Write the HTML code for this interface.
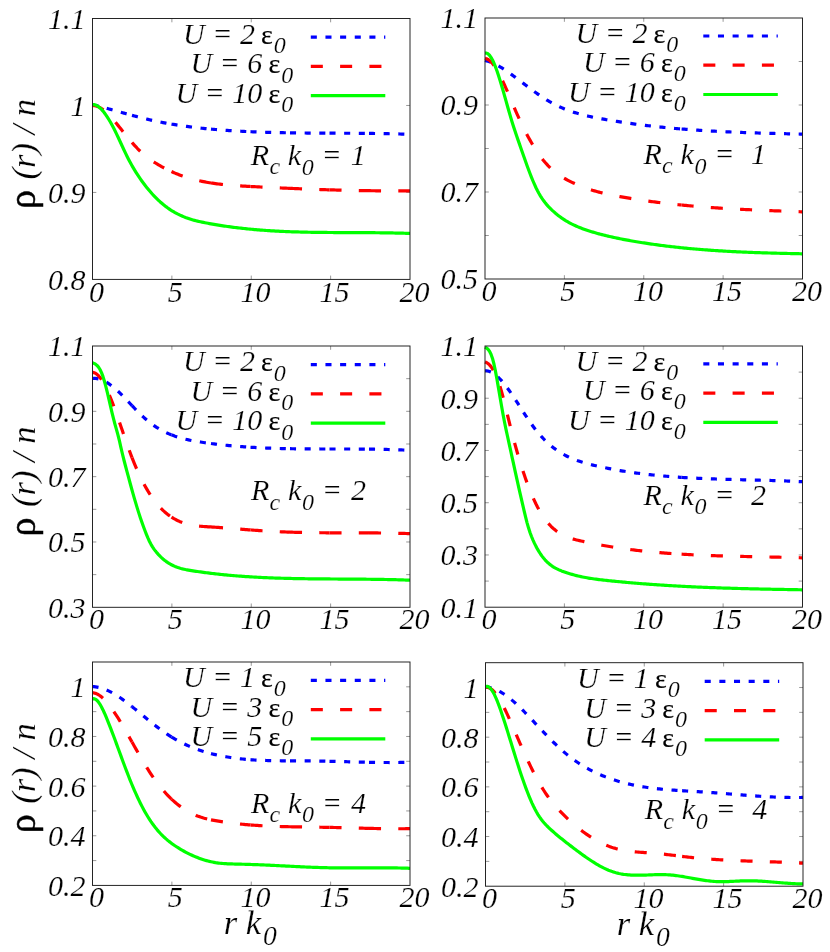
<!DOCTYPE html>
<html><head><meta charset="utf-8"><title>rho(r)/n versus r k0</title>
<style>html,body{margin:0;padding:0;background:#fff}svg{display:block;will-change:transform}text{font-family:"Liberation Serif",serif;fill:#000;stroke:#fff;stroke-width:.2px}.i{font-style:italic}.u{stroke:#000;stroke-width:.2px}.rho{stroke:#000;stroke-width:.5px}.cb,.cr,.cg{fill:none;stroke-width:3.2;stroke-linejoin:round}.cb{stroke:#00f;stroke-dasharray:6.05 8.6}.cr{stroke:#f00;stroke-dasharray:12.05 17.25}.cg{stroke:#0f0}.fr{fill:none;stroke:#1a1a1a;stroke-width:.95}.tk{fill:none;stroke:#333;stroke-width:.5}</style>
</head><body>
<svg width="830" height="952" viewBox="0 0 830 952">
<rect x="0" y="0" width="830" height="952" fill="#fff"/>
<g id="panel1">
<path d="M171.88 279.4v-3.8M171.88 18.5v3.8M251.25 279.4v-3.8M251.25 18.5v3.8M330.62 279.4v-3.8M330.62 18.5v3.8M92.5 192.43h3.8M410 192.43h-3.8M92.5 105.47h3.8M410 105.47h-3.8" class="tk"/>
<path d="M92.5 104.71L94 105.07L95.5 105.44L97 105.81L98.5 106.19L100 106.57L101.5 106.96L103 107.35L104.5 107.75L106 108.15L107.5 108.56L109 108.96L110.5 109.37L112 109.79L113.5 110.2L115 110.62L116.5 111.03L118 111.45L119.5 111.87L121 112.29L122.5 112.7L124 113.12L125.5 113.54L127 113.95L128.5 114.36L130 114.77L131.5 115.18L132 115.32" class="cb"/>
<path d="M132 115.32L133 115.59L134.5 115.99L136 116.39L137.5 116.78L139 117.17L140.5 117.56L142 117.94L143.5 118.31L145 118.68L146.5 119.04L148 119.4L149.5 119.75L151 120.09L152.5 120.43L154 120.76L155.5 121.08L157 121.39L158.5 121.7L160 122.01L161.5 122.3L163 122.59L164.5 122.88L166 123.15L167.5 123.43L169 123.69L170.5 123.95L171.5 124.12" class="cb"/>
<path d="M171.5 124.12L172 124.21L173.5 124.45L175 124.7L176.5 124.94L178 125.17L179.5 125.39L181 125.62L182.5 125.83L184 126.05L185.5 126.25L187 126.45L188.5 126.65L190 126.84L191.5 127.03L193 127.22L194.5 127.4L196 127.57L197.5 127.74L199 127.91L200.5 128.07L202 128.23L203.5 128.39L205 128.54L206.5 128.69L208 128.83L209.5 128.97L211 129.11" class="cb"/>
<path d="M211 129.11L212.5 129.24L214 129.38L215.5 129.5L217 129.63L218.5 129.75L220 129.87L221.5 129.99L223 130.1L224.5 130.21L226 130.32L227.5 130.42L229 130.53L230.5 130.63L232 130.72L233.5 130.82L235 130.91L236.5 131L238 131.08L239.5 131.17L241 131.25L242.5 131.33L244 131.41L245.5 131.48L247 131.55L248.5 131.62L250 131.69L250.5 131.71" class="cb"/>
<path d="M250.5 131.71L251.5 131.76L253 131.82L254.5 131.88L256 131.94L257.5 132L259 132.06L260.5 132.11L262 132.16L263.5 132.21L265 132.26L266.5 132.31L268 132.35L269.5 132.4L271 132.44L272.5 132.48L274 132.52L275.5 132.55L277 132.59L278.5 132.62L280 132.65L281.5 132.68L283 132.71L284.5 132.74L286 132.77L287.5 132.79L289 132.82L290 132.83" class="cb"/>
<path d="M290 132.83L290.5 132.84L292 132.87L293.5 132.89L295 132.91L296.5 132.93L298 132.94L299.5 132.96L301 132.98L302.5 132.99L304 133.01L305.5 133.02L307 133.03L308.5 133.05L310 133.06L311.5 133.07L313 133.08L314.5 133.09L316 133.1L317.5 133.11L319 133.12L320.5 133.13L322 133.13L323.5 133.14L325 133.15L326.5 133.16L328 133.16L329.5 133.17" class="cb"/>
<path d="M329.5 133.17L331 133.18L332.5 133.18L334 133.19L335.5 133.19L337 133.2L338.5 133.21L340 133.21L341.5 133.22L343 133.23L344.5 133.24L346 133.24L347.5 133.25L349 133.26L350.5 133.27L352 133.28L353.5 133.28L355 133.29L356.5 133.3L358 133.32L359.5 133.33L361 133.34L362.5 133.35L364 133.37L365.5 133.38L367 133.39L368.5 133.41L369 133.42" class="cb"/>
<path d="M369 133.42L370 133.43L371.5 133.45L373 133.46L374.5 133.48L376 133.5L377.5 133.53L379 133.55L380.5 133.57L382 133.6L383.5 133.62L385 133.65L386.5 133.68L388 133.71L389.5 133.74L391 133.77L392.5 133.81L394 133.84L395.5 133.88L397 133.92L398.5 133.96L400 134L401.5 134.05L403 134.09L404.5 134.14L406 134.19L407.5 134.24L409 134.29L410 134.33" class="cb"/>
<path d="M92.5 105.44L94 105.53L95.5 105.81L97 106.27L98.5 106.89L100 107.67L101.5 108.59L103 109.66L104.5 110.84L106 112.14L107.5 113.54L109 115.04L110.5 116.62L112 118.27L113.5 119.98L115 121.74L116.5 123.55L118 125.38L119.5 127.23L121 129.1L122.5 130.96L124 132.83L125.5 134.68L127 136.53L128.5 138.35L130 140.14L131.5 141.91L132 142.48" class="cr"/>
<path d="M132 142.48L133 143.63L134.5 145.31L136 146.94L137.5 148.52L139 150.03L140.5 151.48L142 152.86L143.5 154.18L145 155.45L146.5 156.67L148 157.83L149.5 158.94L151 160.02L152.5 161.05L154 162.04L155.5 163L157 163.93L158.5 164.82L160 165.7L161.5 166.54L163 167.37L164.5 168.16L166 168.94L167.5 169.69L169 170.41L170.5 171.12L171.5 171.57" class="cr"/>
<path d="M171.5 171.57L172 171.8L173.5 172.46L175 173.1L176.5 173.71L178 174.31L179.5 174.88L181 175.44L182.5 175.97L184 176.49L185.5 176.99L187 177.47L188.5 177.93L190 178.37L191.5 178.8L193 179.21L194.5 179.6L196 179.98L197.5 180.34L199 180.69L200.5 181.02L202 181.34L203.5 181.64L205 181.93L206.5 182.21L208 182.48L209.5 182.73L211 182.97" class="cr"/>
<path d="M211 182.97L212.5 183.2L214 183.42L215.5 183.63L217 183.83L218.5 184.01L220 184.19L221.5 184.36L223 184.53L224.5 184.68L226 184.83L227.5 184.96L229 185.1L230.5 185.22L232 185.34L233.5 185.46L235 185.56L236.5 185.67L238 185.77L239.5 185.86L241 185.95L242.5 186.04L244 186.13L245.5 186.21L247 186.29L248.5 186.37L250 186.45L250.5 186.48" class="cr"/>
<path d="M250.5 186.48L251.5 186.53L253 186.61L254.5 186.69L256 186.76L257.5 186.84L259 186.92L260.5 186.99L262 187.07L263.5 187.14L265 187.21L266.5 187.29L268 187.36L269.5 187.43L271 187.51L272.5 187.58L274 187.65L275.5 187.72L277 187.79L278.5 187.86L280 187.93L281.5 188L283 188.06L284.5 188.13L286 188.2L287.5 188.26L289 188.33L290 188.37" class="cr"/>
<path d="M290 188.37L290.5 188.39L292 188.46L293.5 188.52L295 188.58L296.5 188.64L298 188.71L299.5 188.77L301 188.83L302.5 188.89L304 188.94L305.5 189L307 189.06L308.5 189.12L310 189.17L311.5 189.23L313 189.28L314.5 189.33L316 189.39L317.5 189.44L319 189.49L320.5 189.54L322 189.59L323.5 189.64L325 189.69L326.5 189.73L328 189.78L329.5 189.83" class="cr"/>
<path d="M329.5 189.83L331 189.87L332.5 189.92L334 189.96L335.5 190L337 190.04L338.5 190.08L340 190.12L341.5 190.16L343 190.2L344.5 190.24L346 190.27L347.5 190.31L349 190.34L350.5 190.37L352 190.41L353.5 190.44L355 190.47L356.5 190.5L358 190.52L359.5 190.55L361 190.58L362.5 190.6L364 190.63L365.5 190.65L367 190.67L368.5 190.7L369 190.7" class="cr"/>
<path d="M369 190.7L370 190.72L371.5 190.73L373 190.75L374.5 190.77L376 190.79L377.5 190.8L379 190.81L380.5 190.83L382 190.84L383.5 190.85L385 190.86L386.5 190.87L388 190.87L389.5 190.88L391 190.89L392.5 190.89L394 190.89L395.5 190.89L397 190.89L398.5 190.89L400 190.89L401.5 190.89L403 190.88L404.5 190.88L406 190.87L407.5 190.86L409 190.85L410 190.84" class="cr"/>
<path d="M92.5 104.55L94 104.65L95.5 105.05L97 105.74L98.5 106.71L100 107.94L101.5 109.4L103 111.09L104.5 112.99L106 115.07L107.5 117.33L109 119.75L110.5 122.31L112 125.02L113.5 127.85L115 130.81L116.5 133.87L118 137.02L119.5 140.24L121 143.49L122.5 146.74L124 149.96L125.5 153.12L127 156.2L128.5 159.16L130 162L131.5 164.73L133 167.36L134.5 169.88L136 172.32L137.5 174.66L139 176.92L140.5 179.11L142 181.22L143.5 183.27L145 185.25L146.5 187.17L148 189.03L149.5 190.82L151 192.55L152.5 194.22L154 195.83L155.5 197.38L157 198.87L158.5 200.31L160 201.69L161.5 203.01L163 204.28L164.5 205.49L166 206.66L167.5 207.77L169 208.82L170.5 209.83L172 210.79L173.5 211.7L175 212.57L176.5 213.38L178 214.16L179.5 214.89L181 215.59L182.5 216.24L184 216.86L185.5 217.45L187 218L188.5 218.52L190 219.01L191.5 219.48L193 219.92L194.5 220.34L196 220.73L197.5 221.1L199 221.46L200.5 221.8L202 222.12L203.5 222.43L205 222.73L206.5 223.02L208 223.3L209.5 223.58L211 223.85L212.5 224.11L214 224.37L215.5 224.63L217 224.88L218.5 225.12L220 225.36L221.5 225.6L223 225.82L224.5 226.05L226 226.27L227.5 226.48L229 226.69L230.5 226.89L232 227.09L233.5 227.29L235 227.48L236.5 227.66L238 227.84L239.5 228.02L241 228.19L242.5 228.36L244 228.52L245.5 228.68L247 228.84L248.5 228.99L250 229.13L251.5 229.28L253 229.41L254.5 229.55L256 229.68L257.5 229.81L259 229.93L260.5 230.05L262 230.16L263.5 230.27L265 230.38L266.5 230.49L268 230.59L269.5 230.68L271 230.78L272.5 230.87L274 230.96L275.5 231.04L277 231.12L278.5 231.2L280 231.28L281.5 231.35L283 231.42L284.5 231.48L286 231.55L287.5 231.61L289 231.67L290.5 231.73L292 231.78L293.5 231.83L295 231.88L296.5 231.93L298 231.97L299.5 232.01L301 232.05L302.5 232.09L304 232.13L305.5 232.16L307 232.19L308.5 232.23L310 232.25L311.5 232.28L313 232.31L314.5 232.33L316 232.35L317.5 232.37L319 232.39L320.5 232.41L322 232.43L323.5 232.45L325 232.46L326.5 232.47L328 232.49L329.5 232.5L331 232.51L332.5 232.52L334 232.53L335.5 232.54L337 232.55L338.5 232.55L340 232.56L341.5 232.57L343 232.57L344.5 232.58L346 232.59L347.5 232.59L349 232.6L350.5 232.6L352 232.61L353.5 232.61L355 232.62L356.5 232.62L358 232.63L359.5 232.63L361 232.64L362.5 232.65L364 232.65L365.5 232.66L367 232.67L368.5 232.68L370 232.69L371.5 232.7L373 232.71L374.5 232.72L376 232.74L377.5 232.75L379 232.77L380.5 232.78L382 232.8L383.5 232.82L385 232.84L386.5 232.86L388 232.89L389.5 232.91L391 232.94L392.5 232.97L394 233L395.5 233.03L397 233.06L398.5 233.1L400 233.13L401.5 233.17L403 233.22L404.5 233.26L406 233.31L407.5 233.35L409 233.4L410 233.44" class="cg"/>
<rect x="92.5" y="18.5" width="317.5" height="260.9" class="fr"/>
<text x="85.6" y="289.8" font-size="30" class="i" text-anchor="end">0.8</text>
<text x="85.6" y="202.83" font-size="30" class="i" text-anchor="end">0.9</text>
<text x="85.6" y="115.87" font-size="30" class="i" text-anchor="end">1</text>
<text x="85.6" y="28.9" font-size="30" class="i" text-anchor="end">1.1</text>
<text x="96.4" y="301.7" font-size="30" class="i" text-anchor="middle">0</text>
<text x="175.18" y="301.7" font-size="30" class="i" text-anchor="middle">5</text>
<text x="255.6" y="301.7" font-size="30" class="i" text-anchor="middle">10</text>
<text x="334.62" y="301.7" font-size="30" class="i" text-anchor="middle">15</text>
<text x="414.4" y="301.7" font-size="30" class="i" text-anchor="middle">20</text>
<text x="254.9" y="43.9" font-size="30" class="i" text-anchor="end">U = 2</text>
<text x="261" y="43.9" font-size="28" class="u">&#949;</text>
<text x="273.8" y="53" font-size="24" class="i">0</text>
<path d="M310.8 37.2H385.3" class="cb"/>
<text x="262.3" y="73.4" font-size="30" class="i" text-anchor="end">U = 6</text>
<text x="268.4" y="73.4" font-size="28" class="u">&#949;</text>
<text x="281.2" y="82.5" font-size="24" class="i">0</text>
<path d="M310.8 66.4H385.3" class="cr"/>
<text x="262.3" y="102.9" font-size="30" class="i" text-anchor="end">U = 10</text>
<text x="268.4" y="102.9" font-size="28" class="u">&#949;</text>
<text x="281.2" y="112" font-size="24" class="i">0</text>
<path d="M310.8 95.7H385.3" class="cg"/>
<text x="250.8" y="164.8" font-size="30" class="i">R</text>
<text x="269.4" y="174.3" font-size="24" class="i">c</text>
<text x="287.8" y="164.8" font-size="30" class="i">k</text>
<text x="301.8" y="174.6" font-size="24" class="i">0</text>
<text x="321.6" y="164.8" font-size="30" class="i">=</text>
<text x="350.8" y="164.8" font-size="30" class="i">1</text>
</g>
<g id="panel2">
<path d="M564.38 279v-3.8M564.38 18v3.8M643.75 279v-3.8M643.75 18v3.8M723.12 279v-3.8M723.12 18v3.8M485 235.5h3.8M802.5 235.5h-3.8M485 192h3.8M802.5 192h-3.8M485 148.5h3.8M802.5 148.5h-3.8M485 105h3.8M802.5 105h-3.8M485 61.5h3.8M802.5 61.5h-3.8" class="tk"/>
<path d="M485 60.52L486.5 60.88L488 61.3L489.5 61.79L491 62.35L492.5 62.96L494 63.63L495.5 64.36L497 65.13L498.5 65.95L500 66.82L501.5 67.72L503 68.66L504.5 69.63L506 70.64L507.5 71.67L509 72.72L510.5 73.79L512 74.88L513.5 75.98L515 77.09L516.5 78.22L518 79.34L519.5 80.47L521 81.61L522.5 82.75L524 83.88L525.5 85.02L527 86.15L528.5 87.28L530 88.4L531.5 89.51L533 90.61L534.5 91.7L536 92.77L537.5 93.84L539 94.88L540.5 95.91L542 96.91L543.5 97.9L545 98.86L546.5 99.8L548 100.7L549.5 101.59L551 102.44L552.5 103.26L554 104.06L555.5 104.82L557 105.57L558.5 106.28L560 106.97L561.5 107.64L563 108.28L564.5 108.9L566 109.49L567.5 110.06L569 110.62L570.5 111.15L572 111.66L573.5 112.16L575 112.63L576.5 113.09L578 113.54L579.5 113.96L581 114.37L582.5 114.77L584 115.15L585.5 115.52L587 115.88L588.5 116.22L590 116.56L591.5 116.88L593 117.2L594.5 117.5L596 117.8L597.5 118.09L599 118.37L600.5 118.65L602 118.92L603.5 119.19L605 119.45L606.5 119.71L608 119.97L609.5 120.22L611 120.47L612.5 120.72L614 120.96L615.5 121.2L617 121.44L618.5 121.67L620 121.91L621.5 122.13L623 122.36L624.5 122.58L626 122.8L627.5 123.01L629 123.23L630.5 123.44L632 123.64L633.5 123.85L635 124.05L636.5 124.25L638 124.44L639.5 124.63L641 124.82L642.5 125.01L644 125.19L645.5 125.38L647 125.55L648.5 125.73L650 125.9L651.5 126.07L653 126.24L654.5 126.41L656 126.57L657.5 126.73L659 126.89L660.5 127.04L662 127.2L663.5 127.35L665 127.5L666.5 127.64L668 127.78L669.5 127.93L671 128.06L672.5 128.2L674 128.33L675.5 128.47L677 128.6L678.5 128.72L680 128.85L681.5 128.97L681.6 128.98" class="cb"/>
<path d="M681.6 128.98L683 129.09L684.5 129.21L686 129.33L687.5 129.44L689 129.56L690.5 129.67L692 129.78L693.5 129.88L695 129.99L696.5 130.09L698 130.19L699.5 130.29L701 130.39L702.5 130.49L704 130.58L705.5 130.67L707 130.76L708.5 130.85L710 130.94L711.5 131.03L713 131.11L714.5 131.19L716 131.27L717.5 131.35L719 131.43L720.5 131.51L722 131.58L723.5 131.65L725 131.73L726.5 131.8L728 131.87L729.5 131.93L731 132L732.5 132.06L734 132.13L735.5 132.19L737 132.25L738.5 132.31L740 132.37L741.5 132.43L743 132.49L744.5 132.54L746 132.6L747.5 132.65L749 132.7L750.5 132.75L752 132.8L753.5 132.85L755 132.9L756.5 132.95L758 132.99L759.5 133.04L761 133.09L762.5 133.13L764 133.17L765.5 133.21L767 133.26L768.5 133.3L770 133.34L771.5 133.38L773 133.42L774.5 133.46L776 133.49L777.5 133.53L779 133.57L780.5 133.6L782 133.64L783.5 133.67L785 133.71L786.5 133.74L788 133.78L789.5 133.81L791 133.84L792.5 133.88L794 133.91L795.5 133.94L797 133.97L798.5 134.01L800 134.04L801.5 134.07L802.5 134.09" class="cb"/>
<path d="M485 58.39L486.5 58.74L488 59.43L489.5 60.47L491 61.82L492.5 63.47L494 65.41L495.5 67.6L497 70.03L498.5 72.67L500 75.5L501.5 78.5L503 81.65L504.5 84.92L506 88.29L507.5 91.73L509 95.24L510.5 98.78L512 102.32L513.5 105.86L515 109.36L516.5 112.81L518 116.18L519.5 119.47L521 122.67L522.5 125.79L524 128.83L525.5 131.79L527 134.66L528.5 137.44L530 140.14L531.5 142.75L533 145.28L534.5 147.71L536 150.06L537.5 152.31L539 154.48L540.5 156.55L542 158.54L543.5 160.43L545 162.22L546.5 163.93L548 165.54L549.5 167.06L551 168.5L552.5 169.86L554 171.14L555.5 172.36L557 173.5L558.5 174.59L560 175.62L561.5 176.6L563 177.53L564.5 178.41L566 179.26L567.5 180.07L569 180.85L570.5 181.61L572 182.35L573.5 183.06L575 183.74L576.5 184.41L578 185.05L579.5 185.67L581 186.27L582.5 186.85L584 187.41L585.5 187.96L587 188.48L588.5 188.99L590 189.48L591.5 189.95L593 190.41L594.5 190.85L596 191.28L597.5 191.69L599 192.09L600.5 192.48L602 192.85L603.5 193.22L605 193.57L606.5 193.91L608 194.24L609.5 194.56L611 194.88L612.5 195.18L614 195.48L615.5 195.77L617 196.06L618.5 196.34L620 196.61L621.5 196.88L623 197.15L624.5 197.41L626 197.67L627.5 197.92L629 198.18L630.5 198.42L632 198.67L633.5 198.91L635 199.15L636.5 199.38L638 199.61L639.5 199.84L641 200.07L642.5 200.29L644 200.51L645.5 200.72L647 200.93L648.5 201.14L650 201.35L651.5 201.55L653 201.75L654.5 201.95L656 202.14L657.5 202.33L659 202.52L660.5 202.71L662 202.89L663.5 203.07L665 203.25L666.5 203.42L668 203.59L669.5 203.76L671 203.93L672.5 204.09L674 204.25L675.5 204.41L677 204.57L678.5 204.72L680 204.87L681.5 205.02L681.6 205.03" class="cr"/>
<path d="M681.6 205.03L683 205.17L684.5 205.31L686 205.45L687.5 205.59L689 205.73L690.5 205.86L692 206L693.5 206.13L695 206.25L696.5 206.38L698 206.5L699.5 206.63L701 206.75L702.5 206.86L704 206.98L705.5 207.09L707 207.21L708.5 207.32L710 207.43L711.5 207.53L713 207.64L714.5 207.74L716 207.84L717.5 207.94L719 208.04L720.5 208.14L722 208.23L723.5 208.32L725 208.42L726.5 208.51L728 208.6L729.5 208.68L731 208.77L732.5 208.85L734 208.94L735.5 209.02L737 209.1L738.5 209.18L740 209.26L741.5 209.33L743 209.41L744.5 209.49L746 209.56L747.5 209.63L749 209.7L750.5 209.77L752 209.84L753.5 209.91L755 209.98L756.5 210.05L758 210.11L759.5 210.18L761 210.24L762.5 210.3L764 210.37L765.5 210.43L767 210.49L768.5 210.55L770 210.61L771.5 210.67L773 210.73L774.5 210.79L776 210.85L777.5 210.9L779 210.96L780.5 211.02L782 211.07L783.5 211.13L785 211.19L786.5 211.24L788 211.3L789.5 211.35L791 211.41L792.5 211.46L794 211.52L795.5 211.57L797 211.62L798.5 211.68L800 211.73L801.5 211.79L802.5 211.82" class="cr"/>
<path d="M485 53.2L486.5 53.11L488 53.81L489.5 55.24L491 57.33L492.5 60.01L494 63.23L495.5 66.93L497 71.04L498.5 75.49L500 80.22L501.5 85.19L503 90.32L504.5 95.57L506 100.88L507.5 106.2L509 111.48L510.5 116.66L512 121.69L513.5 126.52L515 131.11L516.5 135.54L518 139.86L519.5 144.14L521 148.44L522.5 152.74L524 157.03L525.5 161.28L527 165.45L528.5 169.53L530 173.5L531.5 177.33L533 180.99L534.5 184.46L536 187.73L537.5 190.75L539 193.53L540.5 196.09L542 198.43L543.5 200.57L545 202.55L546.5 204.38L548 206.07L549.5 207.66L551 209.15L552.5 210.57L554 211.92L555.5 213.22L557 214.46L558.5 215.64L560 216.77L561.5 217.85L563 218.88L564.5 219.86L566 220.8L567.5 221.69L569 222.54L570.5 223.35L572 224.13L573.5 224.86L575 225.57L576.5 226.24L578 226.88L579.5 227.5L581 228.09L582.5 228.65L584 229.2L585.5 229.72L587 230.23L588.5 230.72L590 231.2L591.5 231.67L593 232.12L594.5 232.57L596 233L597.5 233.42L599 233.84L600.5 234.24L602 234.63L603.5 235.02L605 235.39L606.5 235.76L608 236.12L609.5 236.47L611 236.81L612.5 237.15L614 237.48L615.5 237.8L617 238.11L618.5 238.42L620 238.72L621.5 239.02L623 239.31L624.5 239.6L626 239.88L627.5 240.15L629 240.43L630.5 240.7L632 240.96L633.5 241.22L635 241.48L636.5 241.73L638 241.98L639.5 242.23L641 242.47L642.5 242.71L644 242.94L645.5 243.17L647 243.4L648.5 243.62L650 243.85L651.5 244.06L653 244.28L654.5 244.49L656 244.69L657.5 244.9L659 245.1L660.5 245.3L662 245.49L663.5 245.68L665 245.87L666.5 246.05L668 246.24L669.5 246.41L671 246.59L672.5 246.76L674 246.93L675.5 247.1L677 247.26L678.5 247.42L680 247.58L681.5 247.73L683 247.89L684.5 248.04L686 248.18L687.5 248.33L689 248.47L690.5 248.61L692 248.74L693.5 248.88L695 249.01L696.5 249.14L698 249.26L699.5 249.39L701 249.51L702.5 249.63L704 249.74L705.5 249.86L707 249.97L708.5 250.08L710 250.19L711.5 250.29L713 250.4L714.5 250.5L716 250.6L717.5 250.69L719 250.79L720.5 250.88L722 250.97L723.5 251.06L725 251.15L726.5 251.23L728 251.32L729.5 251.4L731 251.48L732.5 251.55L734 251.63L735.5 251.7L737 251.78L738.5 251.85L740 251.92L741.5 251.99L743 252.05L744.5 252.12L746 252.18L747.5 252.24L749 252.3L750.5 252.36L752 252.42L753.5 252.48L755 252.53L756.5 252.59L758 252.64L759.5 252.69L761 252.74L762.5 252.79L764 252.84L765.5 252.89L767 252.93L768.5 252.98L770 253.02L771.5 253.07L773 253.11L774.5 253.15L776 253.19L777.5 253.23L779 253.27L780.5 253.31L782 253.35L783.5 253.38L785 253.42L786.5 253.45L788 253.49L789.5 253.52L791 253.56L792.5 253.59L794 253.62L795.5 253.66L797 253.69L798.5 253.72L800 253.75L801.5 253.78L802.5 253.8" class="cg"/>
<rect x="485" y="18" width="317.5" height="261" class="fr"/>
<text x="478.1" y="289.4" font-size="30" class="i" text-anchor="end">0.5</text>
<text x="478.1" y="202.4" font-size="30" class="i" text-anchor="end">0.7</text>
<text x="478.1" y="115.4" font-size="30" class="i" text-anchor="end">0.9</text>
<text x="478.1" y="28.4" font-size="30" class="i" text-anchor="end">1.1</text>
<text x="488.9" y="300.75" font-size="30" class="i" text-anchor="middle">0</text>
<text x="567.67" y="300.75" font-size="30" class="i" text-anchor="middle">5</text>
<text x="648.1" y="300.75" font-size="30" class="i" text-anchor="middle">10</text>
<text x="727.12" y="300.75" font-size="30" class="i" text-anchor="middle">15</text>
<text x="806.9" y="300.75" font-size="30" class="i" text-anchor="middle">20</text>
<text x="647.4" y="42.7" font-size="30" class="i" text-anchor="end">U = 2</text>
<text x="653.5" y="42.7" font-size="28" class="u">&#949;</text>
<text x="666.3" y="51.8" font-size="24" class="i">0</text>
<path d="M703.3 36H777.8" class="cb"/>
<text x="654.8" y="72.2" font-size="30" class="i" text-anchor="end">U = 6</text>
<text x="660.9" y="72.2" font-size="28" class="u">&#949;</text>
<text x="673.7" y="81.3" font-size="24" class="i">0</text>
<path d="M703.3 65.2H777.8" class="cr"/>
<text x="654.8" y="101.7" font-size="30" class="i" text-anchor="end">U = 10</text>
<text x="660.9" y="101.7" font-size="28" class="u">&#949;</text>
<text x="673.7" y="110.8" font-size="24" class="i">0</text>
<path d="M703.3 94.5H777.8" class="cg"/>
<text x="643.5" y="163.7" font-size="30" class="i">R</text>
<text x="662.1" y="173.2" font-size="24" class="i">c</text>
<text x="680.5" y="163.7" font-size="30" class="i">k</text>
<text x="694.5" y="173.5" font-size="24" class="i">0</text>
<text x="714.3" y="163.7" font-size="30" class="i">=</text>
<text x="751" y="163.7" font-size="30" class="i">1</text>
</g>
<g id="panel3">
<path d="M171.88 607.3v-3.8M171.88 346v3.8M251.25 607.3v-3.8M251.25 346v3.8M330.62 607.3v-3.8M330.62 346v3.8M92.5 574.64h3.8M410 574.64h-3.8M92.5 541.97h3.8M410 541.97h-3.8M92.5 509.31h3.8M410 509.31h-3.8M92.5 476.65h3.8M410 476.65h-3.8M92.5 443.99h3.8M410 443.99h-3.8M92.5 411.32h3.8M410 411.32h-3.8M92.5 378.66h3.8M410 378.66h-3.8" class="tk"/>
<path d="M92.5 378.43L94 378.35L95.5 378.4L97 378.57L98.5 378.87L100 379.28L101.5 379.8L103 380.43L104.5 381.15L106 381.97L107.5 382.88L109 383.87L110.5 384.94L112 386.09L113.5 387.3L115 388.57L116.5 389.89L118 391.27L119.5 392.7L121 394.16L122.5 395.66L124 397.19L125.5 398.74L127 400.31L128.5 401.89L130 403.48L131.5 405.08L132 405.6" class="cb"/>
<path d="M132 405.6L133 406.66L134.5 408.24L136 409.8L137.5 411.34L139 412.85L140.5 414.34L142 415.78L143.5 417.18L145 418.53L146.5 419.83L148 421.08L149.5 422.28L151 423.43L152.5 424.53L154 425.58L155.5 426.59L157 427.56L158.5 428.48L160 429.36L161.5 430.2L163 431L164.5 431.76L166 432.49L167.5 433.18L169 433.84L170.5 434.47L171.5 434.86" class="cb"/>
<path d="M171.5 434.86L172 435.06L173.5 435.62L175 436.16L176.5 436.66L178 437.14L179.5 437.6L181 438.03L182.5 438.44L184 438.83L185.5 439.19L187 439.54L188.5 439.87L190 440.19L191.5 440.49L193 440.77L194.5 441.04L196 441.31L197.5 441.56L199 441.8L200.5 442.04L202 442.27L203.5 442.49L205 442.71L206.5 442.92L208 443.13L209.5 443.33L211 443.53" class="cb"/>
<path d="M211 443.53L212.5 443.73L214 443.92L215.5 444.1L217 444.28L218.5 444.46L220 444.63L221.5 444.8L223 444.96L224.5 445.12L226 445.27L227.5 445.42L229 445.57L230.5 445.71L232 445.85L233.5 445.98L235 446.11L236.5 446.24L238 446.36L239.5 446.48L241 446.59L242.5 446.71L244 446.81L245.5 446.92L247 447.02L248.5 447.12L250 447.21L250.5 447.24" class="cb"/>
<path d="M250.5 447.24L251.5 447.3L253 447.39L254.5 447.47L256 447.56L257.5 447.63L259 447.71L260.5 447.78L262 447.85L263.5 447.92L265 447.98L266.5 448.05L268 448.1L269.5 448.16L271 448.22L272.5 448.27L274 448.32L275.5 448.36L277 448.41L278.5 448.45L280 448.49L281.5 448.53L283 448.56L284.5 448.6L286 448.63L287.5 448.66L289 448.69L290 448.71" class="cb"/>
<path d="M290 448.71L290.5 448.72L292 448.74L293.5 448.77L295 448.79L296.5 448.81L298 448.83L299.5 448.84L301 448.86L302.5 448.88L304 448.89L305.5 448.9L307 448.91L308.5 448.92L310 448.93L311.5 448.94L313 448.95L314.5 448.96L316 448.96L317.5 448.97L319 448.97L320.5 448.98L322 448.98L323.5 448.98L325 448.99L326.5 448.99L328 448.99L329.5 448.99" class="cb"/>
<path d="M329.5 448.99L331 448.99L332.5 448.99L334 449L335.5 449L337 449L338.5 449L340 449L341.5 449L343 449.01L344.5 449.01L346 449.01L347.5 449.01L349 449.02L350.5 449.02L352 449.03L353.5 449.03L355 449.04L356.5 449.05L358 449.06L359.5 449.06L361 449.07L362.5 449.09L364 449.1L365.5 449.11L367 449.13L368.5 449.14L369 449.15" class="cb"/>
<path d="M369 449.15L370 449.16L371.5 449.18L373 449.2L374.5 449.22L376 449.24L377.5 449.27L379 449.29L380.5 449.32L382 449.35L383.5 449.38L385 449.41L386.5 449.45L388 449.49L389.5 449.53L391 449.57L392.5 449.61L394 449.66L395.5 449.71L397 449.76L398.5 449.81L400 449.87L401.5 449.92L403 449.98L404.5 450.05L406 450.11L407.5 450.18L409 450.25L410 450.3" class="cb"/>
<path d="M92.5 372.45L94 372.65L95.5 373.28L97 374.31L98.5 375.72L100 377.49L101.5 379.6L103 382.01L104.5 384.71L106 387.68L107.5 390.88L109 394.3L110.5 397.91L112 401.69L113.5 405.62L115 409.67L116.5 413.83L118 418.07L119.5 422.37L121 426.7L122.5 431.06L124 435.4L125.5 439.73L127 444L128.5 448.2L130 452.32L131.5 456.32L132 457.61" class="cr"/>
<path d="M132 457.61L133 460.18L134.5 463.9L136 467.47L137.5 470.9L139 474.19L140.5 477.34L142 480.36L143.5 483.25L145 486.01L146.5 488.64L148 491.16L149.5 493.55L151 495.83L152.5 498L154 500.06L155.5 502.02L157 503.87L158.5 505.62L160 507.28L161.5 508.84L163 510.31L164.5 511.7L166 513L167.5 514.22L169 515.36L170.5 516.43L171.5 517.09" class="cr"/>
<path d="M171.5 517.09L172 517.42L173.5 518.34L175 519.2L176.5 519.99L178 520.72L179.5 521.4L181 522.01L182.5 522.57L184 523.09L185.5 523.55L187 523.97L188.5 524.35L190 524.69L191.5 525L193 525.27L194.5 525.51L196 525.72L197.5 525.91L199 526.08L200.5 526.23L202 526.36L203.5 526.48L205 526.59L206.5 526.69L208 526.78L209.5 526.87L211 526.97" class="cr"/>
<path d="M211 526.97L212.5 527.06L214 527.16L215.5 527.26L217 527.37L218.5 527.47L220 527.58L221.5 527.69L223 527.8L224.5 527.91L226 528.03L227.5 528.14L229 528.26L230.5 528.38L232 528.49L233.5 528.61L235 528.73L236.5 528.85L238 528.97L239.5 529.09L241 529.21L242.5 529.33L244 529.44L245.5 529.56L247 529.68L248.5 529.8L250 529.91L250.5 529.95" class="cr"/>
<path d="M250.5 529.95L251.5 530.02L253 530.14L254.5 530.25L256 530.36L257.5 530.46L259 530.57L260.5 530.67L262 530.77L263.5 530.87L265 530.97L266.5 531.06L268 531.15L269.5 531.24L271 531.32L272.5 531.41L274 531.48L275.5 531.56L277 531.63L278.5 531.7L280 531.77L281.5 531.83L283 531.89L284.5 531.95L286 532.01L287.5 532.06L289 532.11L290 532.15" class="cr"/>
<path d="M290 532.15L290.5 532.16L292 532.21L293.5 532.25L295 532.29L296.5 532.33L298 532.37L299.5 532.41L301 532.44L302.5 532.47L304 532.5L305.5 532.53L307 532.56L308.5 532.58L310 532.61L311.5 532.63L313 532.65L314.5 532.67L316 532.69L317.5 532.7L319 532.72L320.5 532.73L322 532.74L323.5 532.76L325 532.77L326.5 532.78L328 532.79L329.5 532.79" class="cr"/>
<path d="M329.5 532.79L331 532.8L332.5 532.81L334 532.81L335.5 532.82L337 532.82L338.5 532.83L340 532.83L341.5 532.83L343 532.84L344.5 532.84L346 532.84L347.5 532.85L349 532.85L350.5 532.85L352 532.85L353.5 532.86L355 532.86L356.5 532.86L358 532.87L359.5 532.87L361 532.87L362.5 532.88L364 532.88L365.5 532.89L367 532.9L368.5 532.9L369 532.91" class="cr"/>
<path d="M369 532.91L370 532.91L371.5 532.92L373 532.93L374.5 532.94L376 532.95L377.5 532.96L379 532.98L380.5 532.99L382 533.01L383.5 533.03L385 533.04L386.5 533.07L388 533.09L389.5 533.11L391 533.13L392.5 533.16L394 533.19L395.5 533.22L397 533.25L398.5 533.29L400 533.32L401.5 533.36L403 533.4L404.5 533.44L406 533.48L407.5 533.53L409 533.58L410 533.61" class="cr"/>
<path d="M92.5 362.78L94 363.38L95.5 364.21L97 365.42L98.5 367.14L100 369.5L101.5 372.64L103 376.68L104.5 381.58L106 387.16L107.5 393.23L109 399.62L110.5 406.12L112 412.56L113.5 418.7L115 424.36L116.5 429.66L118 435.09L119.5 441.16L121 447.83L122.5 454.25L124 460.24L125.5 465.98L127 471.61L128.5 477.2L130 482.74L131.5 488.21L133 493.57L134.5 498.82L136 503.92L137.5 508.86L139 513.62L140.5 518.18L142 522.52L143.5 526.68L145 530.69L146.5 534.55L148 538.18L149.5 541.47L151 544.36L152.5 546.89L154 549.11L155.5 551.1L157 552.91L158.5 554.59L160 556.16L161.5 557.61L163 558.95L164.5 560.19L166 561.34L167.5 562.39L169 563.35L170.5 564.23L172 565.03L173.5 565.75L175 566.41L176.5 567.01L178 567.55L179.5 568.03L181 568.47L182.5 568.87L184 569.22L185.5 569.55L187 569.84L188.5 570.12L190 570.37L191.5 570.61L193 570.85L194.5 571.08L196 571.3L197.5 571.53L199 571.74L200.5 571.95L202 572.16L203.5 572.37L205 572.57L206.5 572.76L208 572.95L209.5 573.14L211 573.32L212.5 573.5L214 573.68L215.5 573.85L217 574.02L218.5 574.18L220 574.34L221.5 574.5L223 574.65L224.5 574.8L226 574.94L227.5 575.08L229 575.22L230.5 575.36L232 575.49L233.5 575.62L235 575.74L236.5 575.86L238 575.98L239.5 576.1L241 576.21L242.5 576.32L244 576.42L245.5 576.53L247 576.63L248.5 576.72L250 576.82L251.5 576.91L253 577L254.5 577.09L256 577.17L257.5 577.25L259 577.33L260.5 577.4L262 577.48L263.5 577.55L265 577.62L266.5 577.68L268 577.75L269.5 577.81L271 577.87L272.5 577.93L274 577.98L275.5 578.04L277 578.09L278.5 578.14L280 578.18L281.5 578.23L283 578.27L284.5 578.31L286 578.35L287.5 578.39L289 578.43L290.5 578.47L292 578.5L293.5 578.53L295 578.56L296.5 578.59L298 578.62L299.5 578.65L301 578.67L302.5 578.7L304 578.72L305.5 578.74L307 578.76L308.5 578.78L310 578.8L311.5 578.82L313 578.83L314.5 578.85L316 578.87L317.5 578.88L319 578.89L320.5 578.91L322 578.92L323.5 578.93L325 578.94L326.5 578.95L328 578.96L329.5 578.97L331 578.98L332.5 578.99L334 579L335.5 579.01L337 579.02L338.5 579.03L340 579.04L341.5 579.04L343 579.05L344.5 579.06L346 579.07L347.5 579.08L349 579.09L350.5 579.1L352 579.11L353.5 579.12L355 579.13L356.5 579.14L358 579.15L359.5 579.16L361 579.17L362.5 579.19L364 579.2L365.5 579.21L367 579.23L368.5 579.24L370 579.26L371.5 579.28L373 579.3L374.5 579.32L376 579.34L377.5 579.36L379 579.38L380.5 579.41L382 579.43L383.5 579.46L385 579.48L386.5 579.51L388 579.54L389.5 579.58L391 579.61L392.5 579.64L394 579.68L395.5 579.72L397 579.76L398.5 579.8L400 579.84L401.5 579.89L403 579.94L404.5 579.98L406 580.04L407.5 580.09L409 580.14L410 580.18" class="cg"/>
<rect x="92.5" y="346" width="317.5" height="261.3" class="fr"/>
<text x="85.6" y="617.7" font-size="30" class="i" text-anchor="end">0.3</text>
<text x="85.6" y="552.37" font-size="30" class="i" text-anchor="end">0.5</text>
<text x="85.6" y="487.05" font-size="30" class="i" text-anchor="end">0.7</text>
<text x="85.6" y="421.72" font-size="30" class="i" text-anchor="end">0.9</text>
<text x="85.6" y="356.4" font-size="30" class="i" text-anchor="end">1.1</text>
<text x="96.4" y="629.05" font-size="30" class="i" text-anchor="middle">0</text>
<text x="175.18" y="629.05" font-size="30" class="i" text-anchor="middle">5</text>
<text x="255.6" y="629.05" font-size="30" class="i" text-anchor="middle">10</text>
<text x="334.62" y="629.05" font-size="30" class="i" text-anchor="middle">15</text>
<text x="414.4" y="629.05" font-size="30" class="i" text-anchor="middle">20</text>
<text x="254.9" y="371.4" font-size="30" class="i" text-anchor="end">U = 2</text>
<text x="261" y="371.4" font-size="28" class="u">&#949;</text>
<text x="273.8" y="380.5" font-size="24" class="i">0</text>
<path d="M310.8 364.7H385.3" class="cb"/>
<text x="262.3" y="400.9" font-size="30" class="i" text-anchor="end">U = 6</text>
<text x="268.4" y="400.9" font-size="28" class="u">&#949;</text>
<text x="281.2" y="410" font-size="24" class="i">0</text>
<path d="M310.8 393.9H385.3" class="cr"/>
<text x="262.3" y="430.4" font-size="30" class="i" text-anchor="end">U = 10</text>
<text x="268.4" y="430.4" font-size="28" class="u">&#949;</text>
<text x="281.2" y="439.5" font-size="24" class="i">0</text>
<path d="M310.8 423.2H385.3" class="cg"/>
<text x="251" y="500" font-size="30" class="i">R</text>
<text x="269.6" y="509.5" font-size="24" class="i">c</text>
<text x="288" y="500" font-size="30" class="i">k</text>
<text x="302" y="509.8" font-size="24" class="i">0</text>
<text x="321.8" y="500" font-size="30" class="i">=</text>
<text x="351" y="500" font-size="30" class="i">2</text>
</g>
<g id="panel4">
<path d="M564.38 607.2v-3.8M564.38 346v3.8M643.75 607.2v-3.8M643.75 346v3.8M723.12 607.2v-3.8M723.12 346v3.8M485 581.08h3.8M802.5 581.08h-3.8M485 554.96h3.8M802.5 554.96h-3.8M485 528.84h3.8M802.5 528.84h-3.8M485 502.72h3.8M802.5 502.72h-3.8M485 476.6h3.8M802.5 476.6h-3.8M485 450.48h3.8M802.5 450.48h-3.8M485 424.36h3.8M802.5 424.36h-3.8M485 398.24h3.8M802.5 398.24h-3.8M485 372.12h3.8M802.5 372.12h-3.8" class="tk"/>
<path d="M485 370.74L486.5 370.77L488 371L489.5 371.42L491 372.03L492.5 372.81L494 373.76L495.5 374.86L497 376.11L498.5 377.5L500 379.02L501.5 380.65L503 382.4L504.5 384.24L506 386.17L507.5 388.18L509 390.25L510.5 392.39L512 394.58L513.5 396.82L515 399.09L516.5 401.39L518 403.71L519.5 406.04L521 408.37L522.5 410.7L524 413.02L525.5 415.32L527 417.59L528.5 419.82L530 422.01L531.5 424.14L533 426.22L534.5 428.23L536 430.16L537.5 432.02L539 433.81L540.5 435.53L542 437.18L543.5 438.76L545 440.28L546.5 441.74L548 443.13L549.5 444.47L551 445.75L552.5 446.97L554 448.14L555.5 449.25L557 450.32L558.5 451.33L560 452.3L561.5 453.22L563 454.1L564.5 454.94L566 455.73L567.5 456.49L569 457.21L570.5 457.9L572 458.55L573.5 459.16L575 459.75L576.5 460.31L578 460.85L579.5 461.35L581 461.84L582.5 462.3L584 462.75L585.5 463.17L587 463.58L588.5 463.98L590 464.36L591.5 464.73L593 465.09L594.5 465.44L596 465.79L597.5 466.13L599 466.46L600.5 466.79L602 467.11L603.5 467.43L605 467.74L606.5 468.04L608 468.34L609.5 468.64L611 468.93L612.5 469.21L614 469.49L615.5 469.76L617 470.03L618.5 470.29L620 470.55L621.5 470.8L623 471.05L624.5 471.29L626 471.52L627.5 471.76L629 471.98L630.5 472.21L632 472.42L633.5 472.64L635 472.85L636.5 473.05L638 473.25L639.5 473.45L641 473.64L642.5 473.82L644 474.01L645.5 474.19L647 474.36L648.5 474.53L650 474.7L651.5 474.86L653 475.02L654.5 475.17L656 475.32L657.5 475.47L659 475.62L660.5 475.76L662 475.89L663.5 476.03L665 476.16L666.5 476.28L668 476.41L669.5 476.53L671 476.65L672.5 476.76L674 476.87L675.5 476.98L677 477.09L678.5 477.19L680 477.29L681.5 477.39L681.6 477.39" class="cb"/>
<path d="M681.6 477.39L683 477.48L684.5 477.57L686 477.66L687.5 477.75L689 477.83L690.5 477.92L692 478L693.5 478.07L695 478.15L696.5 478.22L698 478.29L699.5 478.36L701 478.43L702.5 478.5L704 478.56L705.5 478.62L707 478.68L708.5 478.74L710 478.8L711.5 478.85L713 478.91L714.5 478.96L716 479.01L717.5 479.06L719 479.11L720.5 479.16L722 479.21L723.5 479.25L725 479.3L726.5 479.34L728 479.38L729.5 479.42L731 479.47L732.5 479.51L734 479.55L735.5 479.59L737 479.62L738.5 479.66L740 479.7L741.5 479.74L743 479.78L744.5 479.81L746 479.85L747.5 479.89L749 479.92L750.5 479.96L752 480L753.5 480.04L755 480.07L756.5 480.11L758 480.15L759.5 480.19L761 480.23L762.5 480.27L764 480.31L765.5 480.35L767 480.39L768.5 480.43L770 480.47L771.5 480.52L773 480.56L774.5 480.61L776 480.65L777.5 480.7L779 480.75L780.5 480.8L782 480.85L783.5 480.9L785 480.96L786.5 481.01L788 481.07L789.5 481.13L791 481.19L792.5 481.25L794 481.32L795.5 481.38L797 481.45L798.5 481.52L800 481.59L801.5 481.66L802.5 481.71" class="cb"/>
<path d="M485 361.95L486.5 362.55L488 363.52L489.5 364.89L491 366.65L492.5 368.84L494 371.45L495.5 374.51L497 378.03L498.5 382.01L500 386.47L501.5 391.41L503 396.84L504.5 402.69L506 408.8L507.5 415.03L509 421.23L510.5 427.27L512 433.15L513.5 438.86L515 444.41L516.5 449.78L518 454.99L519.5 460.03L521 464.89L522.5 469.59L524 474.11L525.5 478.46L527 482.63L528.5 486.63L530 490.46L531.5 494.11L533 497.58L534.5 500.87L536 503.99L537.5 506.93L539 509.69L540.5 512.29L542 514.72L543.5 517L545 519.13L546.5 521.11L548 522.96L549.5 524.68L551 526.27L552.5 527.74L554 529.1L555.5 530.35L557 531.5L558.5 532.56L560 533.52L561.5 534.4L563 535.21L564.5 535.94L566 536.61L567.5 537.21L569 537.77L570.5 538.27L572 538.74L573.5 539.16L575 539.56L576.5 539.94L578 540.3L579.5 540.64L581 540.98L582.5 541.31L584 541.64L585.5 541.97L587 542.29L588.5 542.6L590 542.91L591.5 543.22L593 543.52L594.5 543.81L596 544.1L597.5 544.39L599 544.67L600.5 544.94L602 545.21L603.5 545.48L605 545.74L606.5 546L608 546.26L609.5 546.5L611 546.75L612.5 546.99L614 547.23L615.5 547.46L617 547.69L618.5 547.91L620 548.13L621.5 548.35L623 548.56L624.5 548.77L626 548.97L627.5 549.17L629 549.37L630.5 549.56L632 549.75L633.5 549.94L635 550.12L636.5 550.3L638 550.47L639.5 550.64L641 550.81L642.5 550.97L644 551.13L645.5 551.29L647 551.45L648.5 551.6L650 551.74L651.5 551.89L653 552.03L654.5 552.17L656 552.3L657.5 552.44L659 552.57L660.5 552.69L662 552.82L663.5 552.94L665 553.06L666.5 553.17L668 553.28L669.5 553.39L671 553.5L672.5 553.61L674 553.71L675.5 553.81L677 553.91L678.5 554L680 554.09L681.5 554.18L681.6 554.19" class="cr"/>
<path d="M681.6 554.19L683 554.27L684.5 554.36L686 554.44L687.5 554.52L689 554.6L690.5 554.68L692 554.76L693.5 554.83L695 554.9L696.5 554.97L698 555.04L699.5 555.11L701 555.17L702.5 555.23L704 555.3L705.5 555.36L707 555.41L708.5 555.47L710 555.52L711.5 555.58L713 555.63L714.5 555.68L716 555.73L717.5 555.78L719 555.83L720.5 555.87L722 555.92L723.5 555.96L725 556L726.5 556.04L728 556.09L729.5 556.13L731 556.16L732.5 556.2L734 556.24L735.5 556.28L737 556.31L738.5 556.35L740 556.38L741.5 556.42L743 556.45L744.5 556.48L746 556.51L747.5 556.55L749 556.58L750.5 556.61L752 556.64L753.5 556.67L755 556.7L756.5 556.73L758 556.76L759.5 556.79L761 556.82L762.5 556.85L764 556.88L765.5 556.91L767 556.95L768.5 556.98L770 557.01L771.5 557.04L773 557.07L774.5 557.1L776 557.14L777.5 557.17L779 557.2L780.5 557.24L782 557.27L783.5 557.31L785 557.34L786.5 557.38L788 557.42L789.5 557.45L791 557.49L792.5 557.53L794 557.57L795.5 557.62L797 557.66L798.5 557.7L800 557.75L801.5 557.79L802.5 557.83" class="cr"/>
<path d="M485 347.05L486.5 347.99L488 349.29L489.5 351.26L491 354.22L492.5 358.47L494 364.26L495.5 371.39L497 379.48L498.5 388.14L500 397.01L501.5 405.8L503 414.24L504.5 422.07L506 429.33L507.5 436.25L509 443.06L510.5 449.92L512 456.8L513.5 463.68L515 470.55L516.5 477.39L518 484.16L519.5 490.85L521 497.43L522.5 503.91L524 510.31L525.5 516.69L527 522.62L528.5 527.84L530 532.44L531.5 536.5L533 540.12L534.5 543.39L536 546.38L537.5 549.14L539 551.68L540.5 554L542 556.12L543.5 558.05L545 559.8L546.5 561.39L548 562.83L549.5 564.12L551 565.29L552.5 566.34L554 567.29L555.5 568.14L557 568.91L558.5 569.62L560 570.27L561.5 570.88L563 571.45L564.5 572L566 572.53L567.5 573.03L569 573.51L570.5 573.97L572 574.41L573.5 574.83L575 575.23L576.5 575.6L578 575.97L579.5 576.31L581 576.64L582.5 576.95L584 577.25L585.5 577.53L587 577.8L588.5 578.05L590 578.3L591.5 578.53L593 578.76L594.5 578.97L596 579.17L597.5 579.37L599 579.56L600.5 579.74L602 579.92L603.5 580.09L605 580.25L606.5 580.42L608 580.58L609.5 580.73L611 580.89L612.5 581.04L614 581.2L615.5 581.35L617 581.49L618.5 581.64L620 581.78L621.5 581.93L623 582.07L624.5 582.21L626 582.34L627.5 582.48L629 582.61L630.5 582.74L632 582.87L633.5 583L635 583.13L636.5 583.25L638 583.37L639.5 583.5L641 583.62L642.5 583.73L644 583.85L645.5 583.96L647 584.08L648.5 584.19L650 584.3L651.5 584.41L653 584.51L654.5 584.62L656 584.72L657.5 584.82L659 584.92L660.5 585.02L662 585.12L663.5 585.22L665 585.31L666.5 585.4L668 585.5L669.5 585.59L671 585.68L672.5 585.76L674 585.85L675.5 585.93L677 586.02L678.5 586.1L680 586.18L681.5 586.26L683 586.34L684.5 586.42L686 586.49L687.5 586.57L689 586.64L690.5 586.71L692 586.78L693.5 586.85L695 586.92L696.5 586.99L698 587.06L699.5 587.12L701 587.19L702.5 587.25L704 587.31L705.5 587.37L707 587.43L708.5 587.49L710 587.55L711.5 587.61L713 587.66L714.5 587.72L716 587.77L717.5 587.83L719 587.88L720.5 587.93L722 587.98L723.5 588.03L725 588.08L726.5 588.13L728 588.18L729.5 588.22L731 588.27L732.5 588.31L734 588.36L735.5 588.4L737 588.44L738.5 588.48L740 588.52L741.5 588.57L743 588.6L744.5 588.64L746 588.68L747.5 588.72L749 588.76L750.5 588.79L752 588.83L753.5 588.86L755 588.9L756.5 588.93L758 588.97L759.5 589L761 589.03L762.5 589.07L764 589.1L765.5 589.13L767 589.16L768.5 589.19L770 589.22L771.5 589.25L773 589.28L774.5 589.31L776 589.33L777.5 589.36L779 589.39L780.5 589.42L782 589.44L783.5 589.47L785 589.5L786.5 589.52L788 589.55L789.5 589.58L791 589.6L792.5 589.63L794 589.65L795.5 589.68L797 589.7L798.5 589.73L800 589.75L801.5 589.78L802.5 589.79" class="cg"/>
<rect x="485" y="346" width="317.5" height="261.2" class="fr"/>
<text x="478.1" y="617.6" font-size="30" class="i" text-anchor="end">0.1</text>
<text x="478.1" y="565.36" font-size="30" class="i" text-anchor="end">0.3</text>
<text x="478.1" y="513.12" font-size="30" class="i" text-anchor="end">0.5</text>
<text x="478.1" y="460.88" font-size="30" class="i" text-anchor="end">0.7</text>
<text x="478.1" y="408.64" font-size="30" class="i" text-anchor="end">0.9</text>
<text x="478.1" y="356.4" font-size="30" class="i" text-anchor="end">1.1</text>
<text x="488.9" y="628.95" font-size="30" class="i" text-anchor="middle">0</text>
<text x="567.67" y="628.95" font-size="30" class="i" text-anchor="middle">5</text>
<text x="648.1" y="628.95" font-size="30" class="i" text-anchor="middle">10</text>
<text x="727.12" y="628.95" font-size="30" class="i" text-anchor="middle">15</text>
<text x="806.9" y="628.95" font-size="30" class="i" text-anchor="middle">20</text>
<text x="647.4" y="370.6" font-size="30" class="i" text-anchor="end">U = 2</text>
<text x="653.5" y="370.6" font-size="28" class="u">&#949;</text>
<text x="666.3" y="379.7" font-size="24" class="i">0</text>
<path d="M703.3 363.9H777.8" class="cb"/>
<text x="654.8" y="400.1" font-size="30" class="i" text-anchor="end">U = 6</text>
<text x="660.9" y="400.1" font-size="28" class="u">&#949;</text>
<text x="673.7" y="409.2" font-size="24" class="i">0</text>
<path d="M703.3 393.1H777.8" class="cr"/>
<text x="654.8" y="429.6" font-size="30" class="i" text-anchor="end">U = 10</text>
<text x="660.9" y="429.6" font-size="28" class="u">&#949;</text>
<text x="673.7" y="438.7" font-size="24" class="i">0</text>
<path d="M703.3 422.4H777.8" class="cg"/>
<text x="643.5" y="504.5" font-size="30" class="i">R</text>
<text x="662.1" y="514" font-size="24" class="i">c</text>
<text x="680.5" y="504.5" font-size="30" class="i">k</text>
<text x="694.5" y="514.3" font-size="24" class="i">0</text>
<text x="714.3" y="504.5" font-size="30" class="i">=</text>
<text x="751" y="504.5" font-size="30" class="i">2</text>
</g>
<g id="panel5">
<path d="M171.88 885.4v-3.8M171.88 662v3.8M251.25 885.4v-3.8M251.25 662v3.8M330.62 885.4v-3.8M330.62 662v3.8M92.5 860.58h3.8M410 860.58h-3.8M92.5 835.76h3.8M410 835.76h-3.8M92.5 810.93h3.8M410 810.93h-3.8M92.5 786.11h3.8M410 786.11h-3.8M92.5 761.29h3.8M410 761.29h-3.8M92.5 736.47h3.8M410 736.47h-3.8M92.5 711.64h3.8M410 711.64h-3.8M92.5 686.82h3.8M410 686.82h-3.8" class="tk"/>
<path d="M92.5 686.63L94 686.71L95.5 686.86L97 687.08L98.5 687.37L100 687.73L101.5 688.15L103 688.63L104.5 689.16L106 689.76L107.5 690.41L109 691.11L110.5 691.85L112 692.65L113.5 693.49L115 694.37L116.5 695.29L118 696.25L119.5 697.25L121 698.28L122.5 699.33L124 700.42L125.5 701.53L127 702.67L128.5 703.83L130 705L131.5 706.2L132 706.6" class="cb"/>
<path d="M132 706.6L133 707.4L134.5 708.62L136 709.85L137.5 711.09L139 712.33L140.5 713.57L142 714.82L143.5 716.06L145 717.3L146.5 718.53L148 719.76L149.5 720.97L151 722.18L152.5 723.37L154 724.55L155.5 725.72L157 726.87L158.5 728L160 729.12L161.5 730.22L163 731.3L164.5 732.36L166 733.4L167.5 734.41L169 735.4L170.5 736.36L171.5 736.98" class="cb"/>
<path d="M171.5 736.98L172 737.3L173.5 738.21L175 739.09L176.5 739.94L178 740.77L179.5 741.58L181 742.36L182.5 743.12L184 743.85L185.5 744.56L187 745.25L188.5 745.91L190 746.56L191.5 747.18L193 747.78L194.5 748.37L196 748.93L197.5 749.47L199 750L200.5 750.5L202 750.99L203.5 751.46L205 751.92L206.5 752.36L208 752.78L209.5 753.19L211 753.58" class="cb"/>
<path d="M211 753.58L212.5 753.96L214 754.32L215.5 754.68L217 755.02L218.5 755.34L220 755.66L221.5 755.96L223 756.25L224.5 756.52L226 756.79L227.5 757.04L229 757.29L230.5 757.52L232 757.74L233.5 757.96L235 758.16L236.5 758.35L238 758.53L239.5 758.71L241 758.87L242.5 759.02L244 759.17L245.5 759.31L247 759.44L248.5 759.56L250 759.68L250.5 759.71" class="cb"/>
<path d="M250.5 759.71L251.5 759.79L253 759.89L254.5 759.98L256 760.07L257.5 760.15L259 760.22L260.5 760.29L262 760.36L263.5 760.41L265 760.47L266.5 760.51L268 760.56L269.5 760.6L271 760.63L272.5 760.66L274 760.69L275.5 760.71L277 760.74L278.5 760.75L280 760.77L281.5 760.78L283 760.79L284.5 760.8L286 760.81L287.5 760.82L289 760.82L290 760.83" class="cb"/>
<path d="M290 760.83L290.5 760.83L292 760.83L293.5 760.83L295 760.84L296.5 760.84L298 760.84L299.5 760.85L301 760.85L302.5 760.86L304 760.87L305.5 760.88L307 760.89L308.5 760.9L310 760.92L311.5 760.93L313 760.95L314.5 760.97L316 761L317.5 761.02L319 761.05L320.5 761.08L322 761.11L323.5 761.14L325 761.17L326.5 761.21L328 761.24L329.5 761.28" class="cb"/>
<path d="M329.5 761.28L331 761.31L332.5 761.35L334 761.39L335.5 761.43L337 761.47L338.5 761.51L340 761.55L341.5 761.59L343 761.63L344.5 761.67L346 761.71L347.5 761.75L349 761.8L350.5 761.84L352 761.88L353.5 761.92L355 761.96L356.5 762L358 762.04L359.5 762.07L361 762.11L362.5 762.15L364 762.18L365.5 762.21L367 762.25L368.5 762.28L369 762.29" class="cb"/>
<path d="M369 762.29L370 762.31L371.5 762.34L373 762.36L374.5 762.39L376 762.41L377.5 762.43L379 762.45L380.5 762.47L382 762.49L383.5 762.5L385 762.51L386.5 762.52L388 762.52L389.5 762.53L391 762.53L392.5 762.53L394 762.52L395.5 762.52L397 762.5L398.5 762.49L400 762.47L401.5 762.45L403 762.43L404.5 762.4L406 762.37L407.5 762.34L409 762.3L410 762.27" class="cb"/>
<path d="M92.5 692.76L94 692.95L95.5 693.35L97 693.95L98.5 694.74L100 695.72L101.5 696.87L103 698.17L104.5 699.64L106 701.24L107.5 702.97L109 704.83L110.5 706.8L112 708.87L113.5 711.03L115 713.27L116.5 715.58L118 717.96L119.5 720.38L121 722.86L122.5 725.38L124 727.94L125.5 730.53L127 733.15L128.5 735.78L130 738.44L131.5 741.1L132 741.99" class="cr"/>
<path d="M132 741.99L133 743.77L134.5 746.43L136 749.09L137.5 751.74L139 754.37L140.5 756.98L142 759.55L143.5 762.09L145 764.6L146.5 767.05L148 769.46L149.5 771.8L151 774.09L152.5 776.31L154 778.47L155.5 780.56L157 782.59L158.5 784.56L160 786.46L161.5 788.31L163 790.09L164.5 791.82L166 793.48L167.5 795.09L169 796.64L170.5 798.13L171.5 799.08" class="cr"/>
<path d="M171.5 799.08L172 799.56L173.5 800.93L175 802.25L176.5 803.52L178 804.73L179.5 805.89L181 807L182.5 808.05L184 809.06L185.5 810.02L187 810.93L188.5 811.79L190 812.6L191.5 813.37L193 814.1L194.5 814.78L196 815.42L197.5 816.02L199 816.57L200.5 817.09L202 817.57L203.5 818.02L205 818.43L206.5 818.81L208 819.16L209.5 819.5L211 819.81" class="cr"/>
<path d="M211 819.81L212.5 820.1L214 820.38L215.5 820.65L217 820.91L218.5 821.16L220 821.4L221.5 821.64L223 821.87L224.5 822.09L226 822.31L227.5 822.52L229 822.72L230.5 822.91L232 823.1L233.5 823.29L235 823.46L236.5 823.63L238 823.8L239.5 823.96L241 824.11L242.5 824.26L244 824.4L245.5 824.54L247 824.67L248.5 824.8L250 824.92L250.5 824.96" class="cr"/>
<path d="M250.5 824.96L251.5 825.03L253 825.15L254.5 825.25L256 825.36L257.5 825.46L259 825.55L260.5 825.64L262 825.73L263.5 825.81L265 825.89L266.5 825.96L268 826.03L269.5 826.1L271 826.17L272.5 826.23L274 826.29L275.5 826.34L277 826.39L278.5 826.44L280 826.49L281.5 826.54L283 826.58L284.5 826.62L286 826.66L287.5 826.69L289 826.73L290 826.75" class="cr"/>
<path d="M290 826.75L290.5 826.76L292 826.79L293.5 826.82L295 826.85L296.5 826.88L298 826.9L299.5 826.93L301 826.95L302.5 826.97L304 827L305.5 827.02L307 827.04L308.5 827.06L310 827.08L311.5 827.1L313 827.12L314.5 827.15L316 827.17L317.5 827.19L319 827.21L320.5 827.24L322 827.26L323.5 827.28L325 827.31L326.5 827.34L328 827.37L329.5 827.39" class="cr"/>
<path d="M329.5 827.39L331 827.43L332.5 827.46L334 827.49L335.5 827.52L337 827.56L338.5 827.59L340 827.63L341.5 827.67L343 827.71L344.5 827.74L346 827.78L347.5 827.82L349 827.86L350.5 827.9L352 827.94L353.5 827.98L355 828.02L356.5 828.05L358 828.09L359.5 828.13L361 828.17L362.5 828.21L364 828.24L365.5 828.28L367 828.31L368.5 828.35L369 828.36" class="cr"/>
<path d="M369 828.36L370 828.38L371.5 828.41L373 828.45L374.5 828.48L376 828.51L377.5 828.53L379 828.56L380.5 828.59L382 828.61L383.5 828.63L385 828.65L386.5 828.67L388 828.69L389.5 828.7L391 828.72L392.5 828.73L394 828.73L395.5 828.74L397 828.74L398.5 828.75L400 828.75L401.5 828.74L403 828.74L404.5 828.73L406 828.72L407.5 828.7L409 828.68L410 828.67" class="cr"/>
<path d="M92.5 698.88L94 698.69L95.5 699.21L97 700.37L98.5 702.09L100 704.31L101.5 706.95L103 709.95L104.5 713.23L106 716.72L107.5 720.35L109 724.09L110.5 727.91L112 731.82L113.5 735.79L115 739.81L116.5 743.86L118 747.94L119.5 752.03L121 756.12L122.5 760.19L124 764.23L125.5 768.23L127 772.17L128.5 776.04L130 779.83L131.5 783.52L133 787.11L134.5 790.6L136 793.97L137.5 797.24L139 800.39L140.5 803.44L142 806.37L143.5 809.2L145 811.91L146.5 814.51L148 817L149.5 819.37L151 821.63L152.5 823.78L154 825.82L155.5 827.76L157 829.6L158.5 831.35L160 833.01L161.5 834.59L163 836.09L164.5 837.51L166 838.86L167.5 840.15L169 841.38L170.5 842.54L172 843.66L173.5 844.73L175 845.76L176.5 846.74L178 847.7L179.5 848.62L181 849.52L182.5 850.39L184 851.24L185.5 852.05L187 852.84L188.5 853.6L190 854.34L191.5 855.05L193 855.73L194.5 856.38L196 857.01L197.5 857.61L199 858.18L200.5 858.72L202 859.24L203.5 859.73L205 860.19L206.5 860.62L208 861.02L209.5 861.4L211 861.74L212.5 862.06L214 862.35L215.5 862.62L217 862.85L218.5 863.05L220 863.23L221.5 863.39L223 863.52L224.5 863.63L226 863.72L227.5 863.8L229 863.87L230.5 863.92L232 863.97L233.5 864.01L235 864.05L236.5 864.08L238 864.12L239.5 864.15L241 864.19L242.5 864.23L244 864.27L245.5 864.31L247 864.36L248.5 864.4L250 864.45L251.5 864.5L253 864.55L254.5 864.6L256 864.65L257.5 864.71L259 864.76L260.5 864.82L262 864.88L263.5 864.95L265 865.01L266.5 865.08L268 865.15L269.5 865.22L271 865.29L272.5 865.36L274 865.43L275.5 865.5L277 865.58L278.5 865.65L280 865.73L281.5 865.81L283 865.88L284.5 865.96L286 866.04L287.5 866.12L289 866.19L290.5 866.27L292 866.35L293.5 866.42L295 866.5L296.5 866.57L298 866.64L299.5 866.72L301 866.79L302.5 866.86L304 866.93L305.5 866.99L307 867.06L308.5 867.12L310 867.19L311.5 867.25L313 867.31L314.5 867.36L316 867.42L317.5 867.47L319 867.52L320.5 867.56L322 867.61L323.5 867.65L325 867.68L326.5 867.72L328 867.75L329.5 867.78L331 867.8L332.5 867.83L334 867.84L335.5 867.86L337 867.88L338.5 867.89L340 867.9L341.5 867.9L343 867.91L344.5 867.91L346 867.91L347.5 867.91L349 867.91L350.5 867.91L352 867.91L353.5 867.9L355 867.9L356.5 867.89L358 867.88L359.5 867.88L361 867.87L362.5 867.86L364 867.85L365.5 867.84L367 867.84L368.5 867.83L370 867.82L371.5 867.82L373 867.81L374.5 867.81L376 867.8L377.5 867.8L379 867.8L380.5 867.8L382 867.8L383.5 867.81L385 867.81L386.5 867.82L388 867.83L389.5 867.85L391 867.86L392.5 867.88L394 867.9L395.5 867.92L397 867.95L398.5 867.98L400 868.01L401.5 868.04L403 868.08L404.5 868.13L406 868.17L407.5 868.22L409 868.28L410 868.32" class="cg"/>
<rect x="92.5" y="662" width="317.5" height="223.4" class="fr"/>
<text x="85.6" y="895.8" font-size="30" class="i" text-anchor="end">0.2</text>
<text x="85.6" y="846.16" font-size="30" class="i" text-anchor="end">0.4</text>
<text x="85.6" y="796.51" font-size="30" class="i" text-anchor="end">0.6</text>
<text x="85.6" y="746.87" font-size="30" class="i" text-anchor="end">0.8</text>
<text x="85.6" y="697.22" font-size="30" class="i" text-anchor="end">1</text>
<text x="96.4" y="907.15" font-size="30" class="i" text-anchor="middle">0</text>
<text x="175.18" y="907.15" font-size="30" class="i" text-anchor="middle">5</text>
<text x="255.6" y="907.15" font-size="30" class="i" text-anchor="middle">10</text>
<text x="334.62" y="907.15" font-size="30" class="i" text-anchor="middle">15</text>
<text x="414.4" y="907.15" font-size="30" class="i" text-anchor="middle">20</text>
<text x="254.9" y="687.1" font-size="30" class="i" text-anchor="end">U = 1</text>
<text x="261" y="687.1" font-size="28" class="u">&#949;</text>
<text x="273.8" y="696.2" font-size="24" class="i">0</text>
<path d="M310.8 680.4H385.3" class="cb"/>
<text x="262.3" y="716.6" font-size="30" class="i" text-anchor="end">U = 3</text>
<text x="268.4" y="716.6" font-size="28" class="u">&#949;</text>
<text x="281.2" y="725.7" font-size="24" class="i">0</text>
<path d="M310.8 709.6H385.3" class="cr"/>
<text x="262.3" y="746.1" font-size="30" class="i" text-anchor="end">U = 5</text>
<text x="268.4" y="746.1" font-size="28" class="u">&#949;</text>
<text x="281.2" y="755.2" font-size="24" class="i">0</text>
<path d="M310.8 738.9H385.3" class="cg"/>
<text x="251" y="812.5" font-size="30" class="i">R</text>
<text x="269.6" y="822" font-size="24" class="i">c</text>
<text x="288" y="812.5" font-size="30" class="i">k</text>
<text x="302" y="822.3" font-size="24" class="i">0</text>
<text x="321.8" y="812.5" font-size="30" class="i">=</text>
<text x="351" y="812.5" font-size="30" class="i">4</text>
</g>
<g id="panel6">
<path d="M564.88 886.2v-3.8M564.88 662.7v3.8M644.25 886.2v-3.8M644.25 662.7v3.8M723.62 886.2v-3.8M723.62 662.7v3.8M485.5 861.37h3.8M803 861.37h-3.8M485.5 836.53h3.8M803 836.53h-3.8M485.5 811.7h3.8M803 811.7h-3.8M485.5 786.87h3.8M803 786.87h-3.8M485.5 762.03h3.8M803 762.03h-3.8M485.5 737.2h3.8M803 737.2h-3.8M485.5 712.37h3.8M803 712.37h-3.8M485.5 687.53h3.8M803 687.53h-3.8" class="tk"/>
<path d="M485.5 687.01L487 687.12L488.5 687.33L490 687.63L491.5 688L493 688.47L494.5 689.01L496 689.62L497.5 690.31L499 691.07L500.5 691.89L502 692.79L503.5 693.74L505 694.75L506.5 695.82L508 696.94L509.5 698.11L511 699.33L512.5 700.6L514 701.9L515.5 703.25L517 704.63L518.5 706.05L520 707.5L521.5 708.97L523 710.47L524.5 712L526 713.54L527.5 715.1L529 716.67L530.5 718.25L532 719.85L533.5 721.44L535 723.04L536.5 724.64L538 726.24L539.5 727.84L541 729.43L542.5 731.01L544 732.59L545.5 734.15L547 735.71L548.5 737.25L550 738.78L551.5 740.28L553 741.78L554.5 743.25L556 744.7L557.5 746.13L559 747.53L560.5 748.91L562 750.26L563.5 751.58L565 752.87L566.5 754.12L568 755.34L569.5 756.53L571 757.69L572.5 758.82L574 759.91L575.5 760.98L577 762.01L578.5 763.02L580 764L581.5 764.95L583 765.87L584.5 766.76L586 767.63L587.5 768.48L589 769.3L590.5 770.1L592 770.87L593.5 771.62L595 772.35L596.5 773.05L598 773.74L599.5 774.41L601 775.05L602.5 775.68L604 776.29L605.5 776.88L607 777.45L608.5 778.01L610 778.55L611.5 779.07L613 779.58L614.5 780.07L616 780.55L617.5 781.01L619 781.45L620.5 781.88L622 782.3L623.5 782.7L625 783.09L626.5 783.47L628 783.83L629.5 784.18L631 784.52L632.5 784.84L634 785.15L635.5 785.46L637 785.75L638.5 786.02L640 786.29L641.5 786.55L643 786.8L644.5 787.04L646 787.27L647.5 787.48L649 787.7L650.5 787.9L652 788.09L653.5 788.28L655 788.46L656.5 788.63L658 788.79L659.5 788.95L661 789.1L662.5 789.24L664 789.38L665.5 789.52L667 789.65L668.5 789.77L670 789.89L671.5 790L673 790.11L674.5 790.22L676 790.32L677.5 790.43L679 790.52L680.5 790.62L682 790.71L682.1 790.72" class="cb"/>
<path d="M682.1 790.72L683.5 790.81L685 790.9L686.5 790.98L688 791.07L689.5 791.16L691 791.25L692.5 791.34L694 791.42L695.5 791.51L697 791.6L698.5 791.69L700 791.79L701.5 791.88L703 791.98L704.5 792.08L706 792.18L707.5 792.28L709 792.39L710.5 792.49L712 792.6L713.5 792.71L715 792.82L716.5 792.94L718 793.05L719.5 793.17L721 793.29L722.5 793.4L724 793.52L725.5 793.64L727 793.76L728.5 793.88L730 794L731.5 794.12L733 794.24L734.5 794.36L736 794.48L737.5 794.6L739 794.72L740.5 794.84L742 794.96L743.5 795.07L745 795.19L746.5 795.3L748 795.42L749.5 795.53L751 795.64L752.5 795.74L754 795.85L755.5 795.95L757 796.06L758.5 796.16L760 796.25L761.5 796.35L763 796.44L764.5 796.53L766 796.61L767.5 796.7L769 796.78L770.5 796.85L772 796.93L773.5 797L775 797.06L776.5 797.12L778 797.18L779.5 797.24L781 797.28L782.5 797.33L784 797.37L785.5 797.41L787 797.44L788.5 797.46L790 797.49L791.5 797.5L793 797.51L794.5 797.52L796 797.52L797.5 797.51L799 797.5L800.5 797.48L802 797.46L803 797.44" class="cb"/>
<path d="M485.5 687.06L487 687.09L488.5 687.48L490 688.2L491.5 689.24L493 690.56L494.5 692.16L496 694.02L497.5 696.11L499 698.42L500.5 700.93L502 703.62L503.5 706.48L505 709.47L506.5 712.59L508 715.82L509.5 719.14L511 722.52L512.5 725.96L514 729.42L515.5 732.9L517 736.38L518.5 739.84L520 743.27L521.5 746.67L523 750.03L524.5 753.35L526 756.63L527.5 759.86L529 763.04L530.5 766.15L532 769.2L533.5 772.19L535 775.1L536.5 777.93L538 780.68L539.5 783.34L541 785.91L542.5 788.39L544 790.76L545.5 793.04L547 795.23L548.5 797.33L550 799.35L551.5 801.3L553 803.17L554.5 804.98L556 806.72L557.5 808.41L559 810.05L560.5 811.64L562 813.19L563.5 814.7L565 816.18L566.5 817.63L568 819.06L569.5 820.45L571 821.82L572.5 823.16L574 824.46L575.5 825.74L577 826.99L578.5 828.21L580 829.4L581.5 830.56L583 831.69L584.5 832.79L586 833.86L587.5 834.9L589 835.91L590.5 836.88L592 837.83L593.5 838.74L595 839.63L596.5 840.48L598 841.3L599.5 842.08L601 842.84L602.5 843.56L604 844.25L605.5 844.91L607 845.53L608.5 846.12L610 846.68L611.5 847.21L613 847.7L614.5 848.15L616 848.58L617.5 848.97L619 849.34L620.5 849.68L622 849.99L623.5 850.27L625 850.54L626.5 850.78L628 851L629.5 851.21L631 851.39L632.5 851.56L634 851.72L635.5 851.87L637 852L638.5 852.12L640 852.24L641.5 852.35L643 852.46L644.5 852.56L646 852.66L647.5 852.76L649 852.86L650.5 852.97L652 853.07L653.5 853.19L655 853.31L656.5 853.44L658 853.58L659.5 853.73L661 853.88L662.5 854.04L664 854.2L665.5 854.37L667 854.54L668.5 854.72L670 854.9L671.5 855.08L673 855.27L674.5 855.45L676 855.64L677.5 855.82L679 856.01L680.5 856.2L682 856.38L682.1 856.39" class="cr"/>
<path d="M682.1 856.39L683.5 856.56L685 856.74L686.5 856.91L688 857.08L689.5 857.25L691 857.41L692.5 857.57L694 857.72L695.5 857.87L697 858.02L698.5 858.16L700 858.29L701.5 858.42L703 858.55L704.5 858.68L706 858.8L707.5 858.91L709 859.03L710.5 859.14L712 859.25L713.5 859.35L715 859.45L716.5 859.55L718 859.64L719.5 859.73L721 859.82L722.5 859.91L724 859.99L725.5 860.08L727 860.15L728.5 860.23L730 860.31L731.5 860.38L733 860.45L734.5 860.52L736 860.58L737.5 860.65L739 860.71L740.5 860.77L742 860.83L743.5 860.89L745 860.95L746.5 861.01L748 861.06L749.5 861.12L751 861.17L752.5 861.22L754 861.27L755.5 861.32L757 861.37L758.5 861.43L760 861.47L761.5 861.52L763 861.57L764.5 861.62L766 861.67L767.5 861.72L769 861.77L770.5 861.82L772 861.87L773.5 861.92L775 861.97L776.5 862.02L778 862.08L779.5 862.13L781 862.19L782.5 862.24L784 862.3L785.5 862.36L787 862.41L788.5 862.48L790 862.54L791.5 862.6L793 862.67L794.5 862.74L796 862.81L797.5 862.88L799 862.95L800.5 863.03L802 863.11L803 863.16" class="cr"/>
<path d="M485.5 686.59L487 686.36L488.5 686.84L490 688L491.5 689.75L493 692.06L494.5 694.86L496 698.09L497.5 701.7L499 705.62L500.5 709.8L502 714.19L503.5 718.72L505 723.35L506.5 728.08L508 732.87L509.5 737.71L511 742.58L512.5 747.45L514 752.31L515.5 757.13L517 761.89L518.5 766.57L520 771.16L521.5 775.65L523 780.01L524.5 784.25L526 788.34L527.5 792.28L529 796.06L530.5 799.66L532 803.07L533.5 806.28L535 809.27L536.5 812.04L538 814.58L539.5 816.9L541 819.03L542.5 820.98L544 822.77L545.5 824.44L547 826L548.5 827.47L550 828.87L551.5 830.24L553 831.57L554.5 832.88L556 834.17L557.5 835.43L559 836.68L560.5 837.91L562 839.12L563.5 840.32L565 841.5L566.5 842.68L568 843.84L569.5 844.99L571 846.14L572.5 847.28L574 848.42L575.5 849.55L577 850.68L578.5 851.79L580 852.9L581.5 854L583 855.09L584.5 856.16L586 857.22L587.5 858.26L589 859.28L590.5 860.28L592 861.26L593.5 862.22L595 863.15L596.5 864.05L598 864.93L599.5 865.78L601 866.6L602.5 867.38L604 868.14L605.5 868.85L607 869.53L608.5 870.17L610 870.77L611.5 871.33L613 871.85L614.5 872.32L616 872.75L617.5 873.13L619 873.48L620.5 873.79L622 874.06L623.5 874.3L625 874.5L626.5 874.68L628 874.83L629.5 874.95L631 875.04L632.5 875.11L634 875.16L635.5 875.19L637 875.21L638.5 875.21L640 875.19L641.5 875.16L643 875.13L644.5 875.08L646 875.03L647.5 874.98L649 874.92L650.5 874.86L652 874.81L653.5 874.75L655 874.7L656.5 874.66L658 874.63L659.5 874.61L661 874.6L662.5 874.61L664 874.63L665.5 874.67L667 874.73L668.5 874.82L670 874.92L671.5 875.05L673 875.2L674.5 875.37L676 875.56L677.5 875.76L679 875.98L680.5 876.21L682 876.45L683.5 876.7L685 876.96L686.5 877.22L688 877.49L689.5 877.77L691 878.04L692.5 878.32L694 878.6L695.5 878.87L697 879.14L698.5 879.4L700 879.66L701.5 879.91L703 880.14L704.5 880.37L706 880.58L707.5 880.78L709 880.96L710.5 881.12L712 881.27L713.5 881.39L715 881.49L716.5 881.57L718 881.62L719.5 881.66L721 881.67L722.5 881.67L724 881.65L725.5 881.62L727 881.58L728.5 881.53L730 881.47L731.5 881.4L733 881.33L734.5 881.26L736 881.18L737.5 881.11L739 881.04L740.5 880.97L742 880.92L743.5 880.86L745 880.82L746.5 880.79L748 880.78L749.5 880.78L751 880.79L752.5 880.81L754 880.85L755.5 880.9L757 880.96L758.5 881.03L760 881.11L761.5 881.19L763 881.29L764.5 881.39L766 881.5L767.5 881.61L769 881.73L770.5 881.85L772 881.97L773.5 882.1L775 882.23L776.5 882.36L778 882.49L779.5 882.62L781 882.74L782.5 882.87L784 882.99L785.5 883.11L787 883.22L788.5 883.33L790 883.43L791.5 883.52L793 883.61L794.5 883.69L796 883.76L797.5 883.82L799 883.86L800.5 883.9L802 883.93L803 883.94" class="cg"/>
<rect x="485.5" y="662.7" width="317.5" height="223.5" class="fr"/>
<text x="478.6" y="896.6" font-size="30" class="i" text-anchor="end">0.2</text>
<text x="478.6" y="846.93" font-size="30" class="i" text-anchor="end">0.4</text>
<text x="478.6" y="797.27" font-size="30" class="i" text-anchor="end">0.6</text>
<text x="478.6" y="747.6" font-size="30" class="i" text-anchor="end">0.8</text>
<text x="478.6" y="697.93" font-size="30" class="i" text-anchor="end">1</text>
<text x="489.4" y="907.95" font-size="30" class="i" text-anchor="middle">0</text>
<text x="568.17" y="907.95" font-size="30" class="i" text-anchor="middle">5</text>
<text x="648.6" y="907.95" font-size="30" class="i" text-anchor="middle">10</text>
<text x="727.62" y="907.95" font-size="30" class="i" text-anchor="middle">15</text>
<text x="807.4" y="907.95" font-size="30" class="i" text-anchor="middle">20</text>
<text x="648.8" y="688.1" font-size="30" class="i" text-anchor="end">U = 1</text>
<text x="654.9" y="688.1" font-size="28" class="u">&#949;</text>
<text x="667.7" y="697.2" font-size="24" class="i">0</text>
<path d="M704.7 681.4H779.2" class="cb"/>
<text x="656.2" y="717.6" font-size="30" class="i" text-anchor="end">U = 3</text>
<text x="662.3" y="717.6" font-size="28" class="u">&#949;</text>
<text x="675.1" y="726.7" font-size="24" class="i">0</text>
<path d="M704.7 710.6H779.2" class="cr"/>
<text x="656.2" y="747.1" font-size="30" class="i" text-anchor="end">U = 4</text>
<text x="662.3" y="747.1" font-size="28" class="u">&#949;</text>
<text x="675.1" y="756.2" font-size="24" class="i">0</text>
<path d="M704.7 739.9H779.2" class="cg"/>
<text x="644.7" y="819" font-size="30" class="i">R</text>
<text x="663.3" y="828.5" font-size="24" class="i">c</text>
<text x="681.7" y="819" font-size="30" class="i">k</text>
<text x="695.7" y="828.8" font-size="24" class="i">0</text>
<text x="715.5" y="819" font-size="30" class="i">=</text>
<text x="752.2" y="819" font-size="30" class="i">4</text>
</g>
<g transform="translate(35 179.5) rotate(-90)">
<text x="-29.5" y="0" font-size="38" class="rho">&#961;</text>
<text x="0" y="0" font-size="34.5" class="i">(r) / n</text>
</g>
<g transform="translate(35 507) rotate(-90)">
<text x="-29.5" y="0" font-size="38" class="rho">&#961;</text>
<text x="0" y="0" font-size="34.5" class="i">(r) / n</text>
</g>
<g transform="translate(35 803.8) rotate(-90)">
<text x="-29.5" y="0" font-size="38" class="rho">&#961;</text>
<text x="0" y="0" font-size="34.5" class="i">(r) / n</text>
</g>
<text x="223.8" y="934.3" font-size="34.5" class="i">r k</text>
<text x="263.1" y="945.2" font-size="27.6" class="i">0</text>
<text x="616.8" y="935.1" font-size="34.5" class="i">r k</text>
<text x="656.1" y="946" font-size="27.6" class="i">0</text>
</svg>
</body></html>
